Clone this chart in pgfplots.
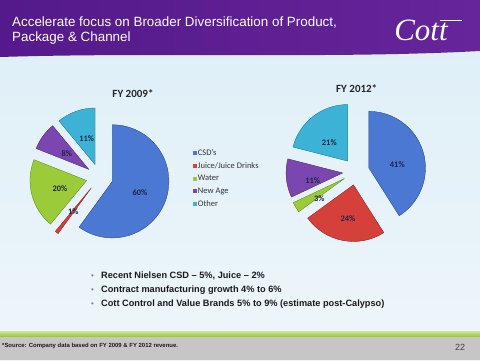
\documentclass[border=0pt]{standalone}
\usepackage{pgfplots}
\pgfplotsset{compat=1.18}
\usepackage{fontspec}
\setmainfont{Liberation Sans}
\newfontfamily\calibri{Carlito}
\newfontfamily\cottfont{Liberation Serif}
\definecolor{csd}{HTML}{4A78D2}
\definecolor{juice}{HTML}{D6403A}
\definecolor{water}{HTML}{9CCB3A}
\definecolor{newage}{HTML}{7C46B0}
\definecolor{other}{HTML}{3CB3D6}
\definecolor{band1}{HTML}{54198A}
\definecolor{band2}{HTML}{66259B}
\definecolor{bgtop}{HTML}{DDEEF7}
\definecolor{bgbot}{HTML}{EEF6FA}
\definecolor{footgray}{HTML}{C6C6C6}
\definecolor{footgreen}{HTML}{9CCB3A}
\definecolor{lblcol}{HTML}{1C2545}
\definecolor{txtcol}{HTML}{1A1A1A}

\newcommand\defshade[1]{%
  \pgfdeclareradialshading{sh-#1}{\pgfpoint{-12bp}{12bp}}{%
    color(0bp)=(#1!72!white); color(22bp)=(#1!92!white); color(45bp)=(#1); color(62bp)=(#1!78!black); color(100bp)=(#1!70!black)}}
\defshade{csd}\defshade{juice}\defshade{water}\defshade{newage}\defshade{other}

% pie wedge drawn as a plot mark at the pie centre (radius 56.6pt, explosion 13.4pt)
\newcommand\wedgepath{%
  \pgfpathmoveto{\pgfpointpolar{\wm}{13.4pt}}%
  \pgfpathlineto{\pgfpointadd{\pgfpointpolar{\wm}{13.4pt}}{\pgfpointpolar{\wa}{56.6pt}}}%
  \pgfpatharc{\wa}{\wb}{56.6pt}%
  \pgfpathclose}
\pgfdeclareplotmark{wedge}{%
  \pgfkeys{/pgf/fpu=false}%
  \pgfmathsetmacro\wa{90-3.6*\wstart}%
  \pgfmathsetmacro\wb{90-3.6*(\wstart+\wshare)}%
  \pgfmathsetmacro\wm{(\wa+\wb)/2}%
  \wedgepath\pgfshadepath{sh-\wcol}{0}\pgfusepathqfill
  \wedgepath\pgfusepathqstroke
}
\pgfplotsset{slice/.style={only marks, mark=wedge, forget plot,
  mark options={draw=#1!65!black, fill=#1, line width=0.3pt, /utils/exec={\def\wcol{#1}}},
  visualization depends on=value \thisrow{start}\as\wstart,
  visualization depends on=value \thisrow{share}\as\wshare}}

\begin{document}
\begin{tikzpicture}[x=1pt,y=1pt]
\useasboundingbox (0,0) rectangle (480,360);
\shade[top color=bgtop, bottom color=bgbot] (0,0) rectangle (480,360);
% header band
\shade[left color=band1, right color=band2] (0,360) -- (480,360) -- (480,309) .. controls (330,301) and (160,308) .. (0,303) -- cycle;
% footer
\fill[footgray] (0,0) rectangle (480,24);
\shade[top color=footgreen!55!white, bottom color=footgreen] (0,24) rectangle (480,28.5);
% title
\node[anchor=base west, text=white, font=\fontsize{13.4}{16}\selectfont, inner sep=0pt] at (12,334) {Accelerate focus on Broader Diversification of Product,};
\node[anchor=base west, text=white, font=\fontsize{13.4}{16}\selectfont, inner sep=0pt] at (12,319) {Package \& Channel};
% logo
\node[text=white, font=\cottfont\itshape\fontsize{31}{31}\selectfont, inner sep=0pt] at (421,330) {Cott};
\draw[white, line width=0.7pt] (440,339.5) -- (462,339.5);
% bullets
\foreach \yy/\tt in {81.5/{Recent Nielsen CSD – 5\%, Juice – 2\%}, 67.2/{Contract manufacturing growth 4\% to 6\%}, 53.2/{Cott Control and Value Brands 5\% to 9\% (estimate post-Calypso)}}{
  \node[anchor=base west, inner sep=0pt, font=\fontsize{8}{10}\selectfont, text=gray] at (91,\yy) {•};
  \node[anchor=base west, inner sep=0pt, font=\bfseries\fontsize{9.2}{11}\selectfont, text=txtcol] at (101,\yy) {\tt};
}
% footer texts
\node[anchor=base west, inner sep=0pt, font=\bfseries\fontsize{5.95}{7}\selectfont, text=txtcol] at (2,13) {*Source: Company data based on FY 2009 \& FY 2012 revenue.};
\node[anchor=base west, inner sep=0pt, font=\fontsize{9}{10}\selectfont, text=black!75] at (455,9.5) {22};

\begin{axis}[at={(0,0)}, anchor=south west, width=480pt, height=360pt, scale only axis,
  xmin=0, xmax=480, ymin=0, ymax=360, axis lines=none, clip=false,
  legend image code/.code={\fill[#1] (0pt,-2pt) rectangle (4pt,2pt);},
  legend cell align=left,
  legend style={at={(0.402,0.588)}, anchor=north west, draw=none, fill=none, inner sep=0pt,
    row sep=3.9pt, font=\calibri\fontsize{8.5}{10}\selectfont, text=black!80,
    nodes={inner sep=0.8pt}}]
% FY 2009
\addplot[slice=csd]    table[row sep=\\] {x y start share\\ 99.6 182.8 0 60\\};
\addplot[slice=juice]  table[row sep=\\] {x y start share\\ 99.6 182.8 60 1\\};
\addplot[slice=water]  table[row sep=\\] {x y start share\\ 99.6 182.8 61 20\\};
\addplot[slice=newage] table[row sep=\\] {x y start share\\ 99.6 182.8 81 8\\};
\addplot[slice=other]  table[row sep=\\] {x y start share\\ 99.6 182.8 89 11\\};
% FY 2012
\addplot[slice=csd]    table[row sep=\\] {x y start share\\ 356 188.3 0 41\\};
\addplot[slice=juice]  table[row sep=\\] {x y start share\\ 356 188.3 41 24\\};
\addplot[slice=water]  table[row sep=\\] {x y start share\\ 356 188.3 65 3\\};
\addplot[slice=newage] table[row sep=\\] {x y start share\\ 356 188.3 68 11\\};
\addplot[slice=other]  table[row sep=\\] {x y start share\\ 356 188.3 79 21\\};
\addlegendimage{fill=csd, draw=none}\addlegendentry{CSD’s}
\addlegendimage{fill=juice, draw=none}\addlegendentry{Juice/Juice Drinks}
\addlegendimage{fill=water, draw=none}\addlegendentry{Water}
\addlegendimage{fill=newage, draw=none}\addlegendentry{New Age}
\addlegendimage{fill=other, draw=none}\addlegendentry{Other}
% label positions
\coordinate (t1) at (axis cs:133,266);
\coordinate (t2) at (axis cs:356.7,271);
\coordinate (a1) at (axis cs:140,167.7);
\coordinate (a2) at (axis cs:60,171.7);
\coordinate (a3) at (axis cs:73.3,148.3);
\coordinate (a4) at (axis cs:66.7,206);
\coordinate (a5) at (axis cs:86.7,221.7);
\coordinate (b1) at (axis cs:397.3,195.7);
\coordinate (b2) at (axis cs:329.3,217.3);
\coordinate (b3) at (axis cs:312.7,179.3);
\coordinate (b4) at (axis cs:319.3,161);
\coordinate (b5) at (axis cs:348,141);
\end{axis}
\node[font=\calibri\bfseries\fontsize{11}{13}\selectfont, text=black!85] at (t1) {FY 2009*};
\node[font=\calibri\bfseries\fontsize{11}{13}\selectfont, text=black!85] at (t2) {FY 2012*};
\begin{scope}[every node/.style={font=\calibri\bfseries\fontsize{8.4}{10}\selectfont, text=lblcol, inner sep=0pt}]
\node at (a1) {60\%};
\node at (a2) {20\%};
\node at (a3) {1\%};
\node at (a4) {8\%};
\node at (a5) {11\%};
\node at (b1) {41\%};
\node at (b2) {21\%};
\node at (b3) {11\%};
\node at (b4) {3\%};
\node at (b5) {24\%};
\end{scope}
\end{tikzpicture}
\end{document}
